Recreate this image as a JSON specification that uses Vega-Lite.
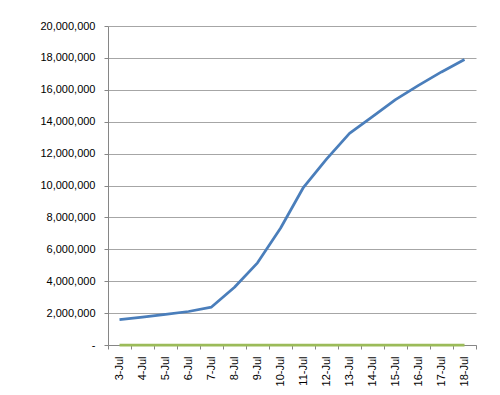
{
  "$schema": "https://vega.github.io/schema/vega-lite/v6.json",
  "autosize": {"type": "none"},
  "width": 368,
  "height": 319,
  "padding": {"left": 108, "top": 26, "right": 24, "bottom": 50},
  "background": "white",
  "data": {
    "values": [
      {"date": "3-Jul", "series": "A", "value": 1590000},
      {"date": "4-Jul", "series": "A", "value": 1750000},
      {"date": "5-Jul", "series": "A", "value": 1920000},
      {"date": "6-Jul", "series": "A", "value": 2100000},
      {"date": "7-Jul", "series": "A", "value": 2380000},
      {"date": "8-Jul", "series": "A", "value": 3620000},
      {"date": "9-Jul", "series": "A", "value": 5150000},
      {"date": "10-Jul", "series": "A", "value": 7320000},
      {"date": "11-Jul", "series": "A", "value": 9890000},
      {"date": "12-Jul", "series": "A", "value": 11650000},
      {"date": "13-Jul", "series": "A", "value": 13270000},
      {"date": "14-Jul", "series": "A", "value": 14320000},
      {"date": "15-Jul", "series": "A", "value": 15380000},
      {"date": "16-Jul", "series": "A", "value": 16280000},
      {"date": "17-Jul", "series": "A", "value": 17120000},
      {"date": "18-Jul", "series": "A", "value": 17900000},
      {"date": "3-Jul", "series": "B", "value": 0},
      {"date": "4-Jul", "series": "B", "value": 0},
      {"date": "5-Jul", "series": "B", "value": 0},
      {"date": "6-Jul", "series": "B", "value": 0},
      {"date": "7-Jul", "series": "B", "value": 0},
      {"date": "8-Jul", "series": "B", "value": 0},
      {"date": "9-Jul", "series": "B", "value": 0},
      {"date": "10-Jul", "series": "B", "value": 0},
      {"date": "11-Jul", "series": "B", "value": 0},
      {"date": "12-Jul", "series": "B", "value": 0},
      {"date": "13-Jul", "series": "B", "value": 0},
      {"date": "14-Jul", "series": "B", "value": 0},
      {"date": "15-Jul", "series": "B", "value": 0},
      {"date": "16-Jul", "series": "B", "value": 0},
      {"date": "17-Jul", "series": "B", "value": 0},
      {"date": "18-Jul", "series": "B", "value": 0}
    ]
  },
  "mark": {"type": "line", "strokeWidth": 2.75, "interpolate": "linear", "strokeJoin": "round", "clip": false},
  "encoding": {
    "x": {
      "field": "date",
      "type": "ordinal",
      "sort": null,
      "scale": {"type": "band", "paddingInner": 0, "paddingOuter": 0},
      "axis": {
        "title": null,
        "labelAngle": -90,
        "tickBand": "extent",
        "tickSize": 4,
        "labelPadding": 7,
        "labelFont": "Liberation Sans",
        "labelFontSize": 11,
        "labelColor": "#000000",
        "domainColor": "#868686",
        "tickColor": "#868686",
        "grid": false
      }
    },
    "y": {
      "field": "value",
      "type": "quantitative",
      "scale": {"domain": [0, 20000000], "nice": false},
      "axis": {
        "title": null,
        "values": [0, 2000000, 4000000, 6000000, 8000000, 10000000, 12000000, 14000000, 16000000, 18000000, 20000000],
        "labelExpr": "datum.value == 0 ? '-         ' : format(datum.value, ',')",
        "tickSize": 4,
        "labelPadding": 9,
        "labelFont": "Liberation Sans",
        "labelFontSize": 11,
        "labelColor": "#000000",
        "domainColor": "#868686",
        "tickColor": "#868686",
        "grid": true,
        "gridColor": "#A6A6A6",
        "gridWidth": 1
      }
    },
    "color": {
      "field": "series",
      "type": "nominal",
      "scale": {"domain": ["A", "B"], "range": ["#4A7EBB", "#9BBB59"]},
      "legend": null
    },
    "order": {"field": "series"}
  },
  "config": {"view": {"stroke": null}}
}
